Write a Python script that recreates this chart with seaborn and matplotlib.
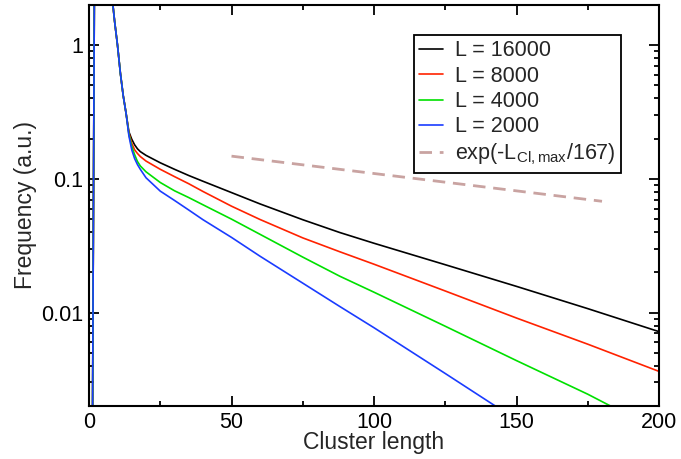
"""Cluster length distribution for several system sizes (log-lin)."""

import matplotlib
matplotlib.use("Agg")
import matplotlib.pyplot as plt
from matplotlib.ticker import MultipleLocator, NullFormatter
import seaborn as sns
import pandas as pd

# shared steep head of all curves (cluster length, frequency)
head_len = [1, 2, 3, 4, 5, 6, 7, 8, 9, 10, 11, 12, 13]
head_freq = [1e-4, 10, 20, 20, 15, 8, 4, 2.4, 1.5, 1.0, 0.62, 0.42, 0.31]

# tails
tail_len_16000 = [14, 15, 16, 17, 18, 20, 25, 30, 35, 40, 50, 60, 75, 88, 100, 125, 150, 175, 200]
tail_freq_16000 = [0.225, 0.198, 0.18, 0.168, 0.16, 0.15, 0.132, 0.118, 0.106, 0.096, 0.079,
                   0.065, 0.0495, 0.0397, 0.033, 0.0228, 0.0157, 0.0107, 0.0072]

tail_len_8000 = [14, 15, 16, 17, 18, 20, 25, 30, 35, 40, 50, 60, 75, 88, 100, 125, 150, 175, 200]
tail_freq_8000 = [0.22, 0.185, 0.165, 0.155, 0.147, 0.136, 0.118, 0.104, 0.092, 0.0805, 0.0625,
                  0.0497, 0.0362, 0.0285, 0.023, 0.0145, 0.0091, 0.0058, 0.00363]

tail_len_4000 = [14, 15, 16, 17, 18, 20, 25, 30, 35, 40, 50, 60, 75, 88, 100, 125, 150, 175, 185]
tail_freq_4000 = [0.215, 0.175, 0.152, 0.135, 0.125, 0.113, 0.094, 0.0815, 0.0725, 0.064, 0.05,
                  0.0385, 0.026, 0.0187, 0.0142, 0.0079, 0.00437, 0.00245, 0.0019]

tail_len_2000 = [14, 15, 16, 17, 18, 20, 25, 30, 35, 40, 50, 60, 75, 88, 100, 125, 145]
tail_freq_2000 = [0.21, 0.165, 0.142, 0.128, 0.118, 0.102, 0.081, 0.069, 0.0585, 0.0495, 0.0365,
                  0.0264, 0.0166, 0.0111, 0.0077, 0.0035, 0.00185]

# exponential guide, exp(-L/167), two end points
fit_len = [50, 180]
fit_freq = [0.148, 0.068]

series_labels = ["L = 16000", "L = 8000", "L = 4000", "L = 2000"]
series_colors = ["#000000", "#ff2200", "#00e000", "#1a3cff"]
fit_label = r"exp(-L$_{\mathrm{Cl,max}}$/167)"
fit_color = "#c9a3a1"

sns.set_style("ticks")
plt.rcParams["font.family"] = ["Liberation Sans", "DejaVu Sans"]
plt.rcParams["mathtext.fontset"] = "custom"
plt.rcParams["mathtext.rm"] = "Liberation Sans"
plt.rcParams["mathtext.it"] = "Liberation Sans:italic"

tails = [(tail_len_16000, tail_freq_16000), (tail_len_8000, tail_freq_8000),
         (tail_len_4000, tail_freq_4000), (tail_len_2000, tail_freq_2000)]

fig = plt.figure(figsize=(6.81, 4.59), dpi=100)
ax = fig.add_axes([0.1307, 0.1155, 0.837, 0.8736])

for (tl, tf), lab, col in zip(tails, series_labels, series_colors):
    df = pd.DataFrame({"length": head_len + tl, "freq": head_freq + tf})
    sns.lineplot(data=df, x="length", y="freq", color=col, lw=1.2, label=lab, ax=ax)

sns.lineplot(x=fit_len, y=fit_freq, color=fit_color, lw=2.0,
             linestyle=(0, (4.5, 2.8)), label=fit_label, ax=ax)

ax.set_yscale("log")
ax.set_xlim(0, 200)
ax.set_ylim(0.002, 2.0)

ax.xaxis.set_major_locator(MultipleLocator(50))
ax.xaxis.set_minor_locator(MultipleLocator(25))
ax.set_yticks([0.01, 0.1, 1])
ax.set_yticklabels(["0.01", "0.1", "1"])
ax.yaxis.set_minor_formatter(NullFormatter())

ax.tick_params(which="both", direction="in", top=True, right=True, width=1.3,
               labelsize=15.5, colors="black")
ax.tick_params(which="major", length=7, pad=4)
ax.tick_params(which="minor", length=3.5)
for sp in ax.spines.values():
    sp.set_linewidth(1.5)
    sp.set_color("black")

ax.set_xlabel("Cluster length", fontsize=16.5, labelpad=-1)
ax.set_ylabel("Frequency (a.u.)", fontsize=16.5, labelpad=3)

leg = ax.legend(loc="upper right", bbox_to_anchor=(0.933, 0.925), borderaxespad=0,
                fontsize=15.5, handlelength=1.1, handletextpad=0.55, labelspacing=0.2,
                borderpad=0.25, fancybox=False, framealpha=1)
leg.get_frame().set_edgecolor("black")
leg.get_frame().set_linewidth(1.3)

fig.savefig("out.png", dpi=100)
